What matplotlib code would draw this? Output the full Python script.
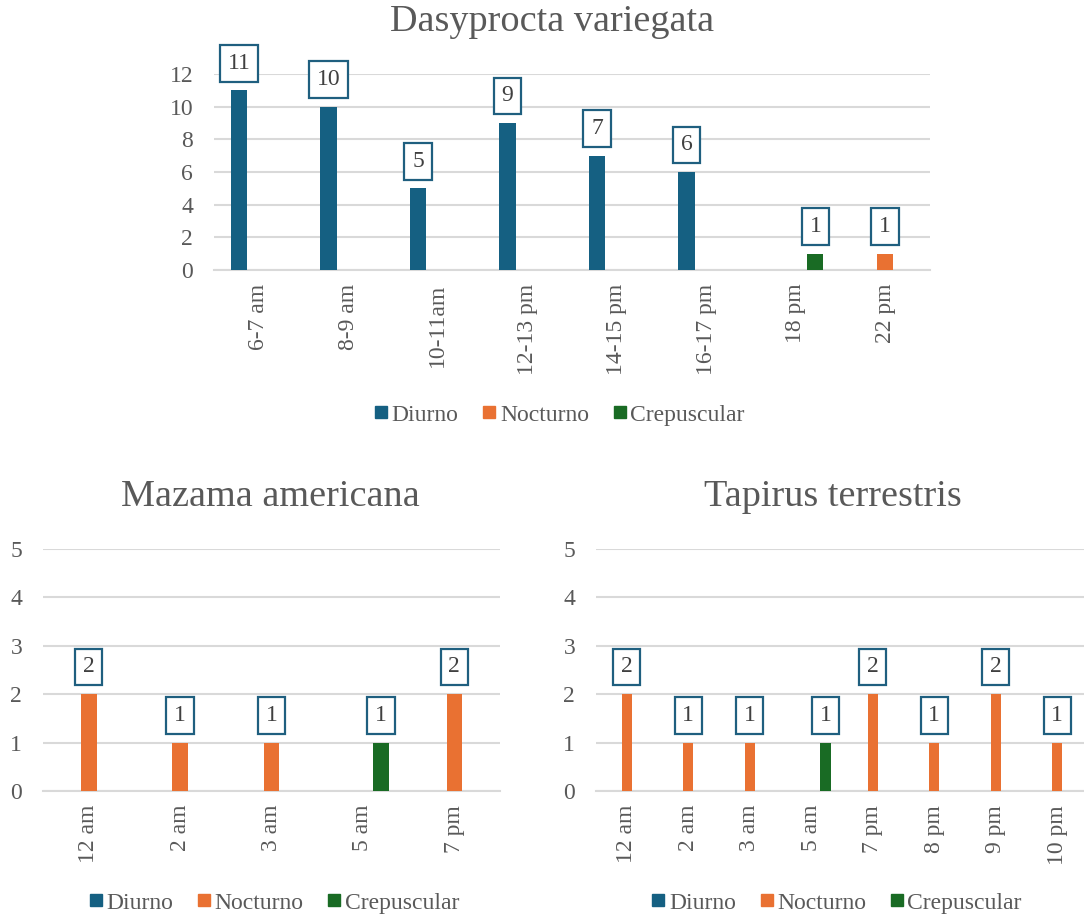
import numpy as np
import matplotlib
matplotlib.use('Agg')
import matplotlib.pyplot as plt
from matplotlib.lines import Line2D

plt.rcParams['font.family'] = ['Liberation Serif', 'DejaVu Serif']

# Series names and colors
series_names = ['Diurno', 'Nocturno', 'Crepuscular']
series_colors = ['#156082', '#E97132', '#196B24']

# Dasyprocta variegata
dasy_labels = ['6-7 am', '8-9 am', '10-11am', '12-13 pm', '14-15 pm', '16-17 pm', '18 pm', '22 pm']
dasy_diurno = [11, 10, 5, 9, 7, 6, None, None]
dasy_nocturno = [None, None, None, None, None, None, None, 1]
dasy_crepus = [None, None, None, None, None, None, 1, None]

# Mazama americana
maz_labels = ['12 am', '2 am', '3 am', '5 am', '7 pm']
maz_diurno = [None, None, None, None, None]
maz_nocturno = [2, 1, 1, None, 2]
maz_crepus = [None, None, None, 1, None]

# Tapirus terrestris
tap_labels = ['12 am', '2 am', '3 am', '5 am', '7 pm', '8 pm', '9 pm', '10 pm']
tap_diurno = [None] * 8
tap_nocturno = [2, 1, 1, None, 2, 1, 2, 1]
tap_crepus = [None, None, None, 1, None, None, None, None]

GRAY = '#595959'
GRID = '#D9D9D9'
BOXEDGE = '#1F5F7F'
FS = 17


def draw_chart(ax, labels, series, ymax, ystep, bar_w, offset):
    x = np.arange(len(labels))
    for k, (vals, color) in enumerate(zip(series, series_colors)):
        xs = x + (k - 1) * offset
        for xi, v in zip(xs, vals):
            if v is None:
                continue
            ax.bar(xi, v, width=bar_w, color=color, zorder=3)
            ax.annotate(str(v), xy=(xi, v), xytext=(0, 19.5), textcoords='offset points',
                        ha='center', va='center', fontsize=FS, color='#404040', zorder=4,
                        bbox=dict(boxstyle='square,pad=0.33', fc='white', ec=BOXEDGE, lw=1.6))
    ax.set_xlim(-0.5, len(labels) - 0.5)
    ax.set_ylim(0, ymax)
    ax.set_yticks(np.arange(0, ymax + 0.01, ystep))
    ax.yaxis.grid(True, color=GRID, lw=1.5, zorder=0)
    ax.set_axisbelow(True)
    for s in ['top', 'right', 'left']:
        ax.spines[s].set_visible(False)
    ax.spines['bottom'].set_color(GRID)
    ax.spines['bottom'].set_linewidth(1.5)
    ax.set_xticks(x)
    ax.set_xticklabels(labels, rotation=90, fontsize=FS, color=GRAY)
    ax.tick_params(axis='x', length=0, pad=10)
    ax.tick_params(axis='y', length=0, pad=15, labelsize=FS, labelcolor=GRAY)
    ax.set_facecolor('none')


def add_legend(fig, x, y):
    handles = [Line2D([], [], marker='s', ls='', color=c, markersize=9) for c in series_colors]
    fig.legend(handles, series_names, loc='center', bbox_to_anchor=(x, y), ncol=3,
               frameon=False, fontsize=FS, labelcolor=GRAY, handletextpad=0.15,
               columnspacing=1.0, handlelength=0.6)


fig = plt.figure(figsize=(10.84, 9.17), dpi=100)

ax1 = fig.add_axes([0.1974, 0.7056, 0.6605, 0.2137])
draw_chart(ax1, dasy_labels, [dasy_diurno, dasy_nocturno, dasy_crepus], 12, 2, 0.18, 0.22)
fig.text(0.509, 0.976, 'Dasyprocta variegata', ha='center', va='center', fontsize=27.5, color=GRAY)
add_legend(fig, 0.516, 0.5475)

ax2 = fig.add_axes([0.0397, 0.1374, 0.4216, 0.2644])
draw_chart(ax2, maz_labels, [maz_diurno, maz_nocturno, maz_crepus], 5, 1, 0.17, 0.2)
fig.text(0.249, 0.458, 'Mazama americana', ha='center', va='center', fontsize=27.5, color=GRAY)
add_legend(fig, 0.2528, 0.0153)

ax3 = fig.add_axes([0.5498, 0.1374, 0.4539, 0.2644])
draw_chart(ax3, tap_labels, [tap_diurno, tap_nocturno, tap_crepus], 5, 1, 0.17, 0.23)
fig.text(0.768, 0.458, 'Tapirus terrestris', ha='center', va='center', fontsize=27.5, color=GRAY)
add_legend(fig, 0.7717, 0.0153)

fig.savefig('out.png', dpi=100)
